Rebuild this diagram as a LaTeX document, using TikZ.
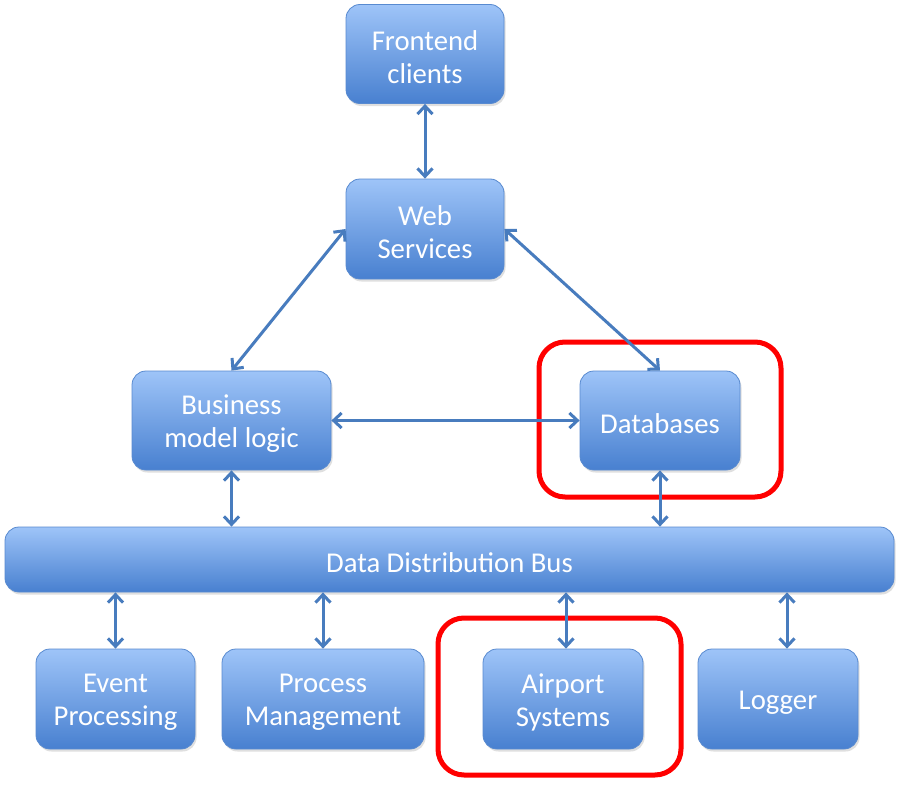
\documentclass[tikz,border=0pt]{standalone}
\usepackage{fontspec}
\setmainfont{Carlito}
\usetikzlibrary{arrows.meta,shadows,calc}
\definecolor{boxtop}{RGB}{158,196,248}
\definecolor{boxbot}{RGB}{72,128,208}
\definecolor{boxedge}{RGB}{88,138,208}
\definecolor{arrowc}{RGB}{72,124,190}
\begin{document}
\begin{tikzpicture}[x=1pt,y=-1pt,
  blk/.style={draw=boxedge, line width=0.8pt, rounded corners=14pt,
    top color=boxtop, bottom color=boxbot, inner sep=0pt,
    drop shadow={opacity=0.25, shadow xshift=1.5pt, shadow yshift=-2.5pt}},
  txt/.style={text=white, font=\fontsize{28.7}{33}\selectfont, align=center,
    inner sep=0pt, yshift=-3.5pt},
  link/.style={draw=arrowc, line width=3pt,
    {Straight Barb[length=8pt,width=15pt]}-{Straight Barb[length=8pt,width=15pt]}},
  hilite/.style={draw=red, line width=5pt, rounded corners=26pt}]
\useasboundingbox (0,0) rectangle (900,800);
\fill[white] (0,0) rectangle (900,800);

\draw[hilite] (539,342) rectangle (781,497);
\draw[hilite] (438,618) rectangle (681,775);

\node[blk, minimum width=158pt, minimum height=99pt,
  label={[txt, name=fet]center:{Frontend\\clients}}] (fe) at (425,54) {};
\node[blk, minimum width=158pt, minimum height=100pt,
  label={[txt, name=wst]center:{Web\\Services}}] (ws) at (425,229) {};
\node[blk, minimum width=199pt, minimum height=99pt,
  label={[txt, name=blt]center:{Business\\model logic}}] (bl) at (231.5,420.5) {};
\node[blk, minimum width=160pt, minimum height=99pt,
  label={[txt, name=dbt]center:{Databases}}] (db) at (660,420.5) {};
\node[blk, minimum width=889pt, minimum height=65pt,
  label={[txt, name=bust]center:{Data Distribution Bus}}] (bus) at (449.5,559.5) {};
\node[blk, minimum width=159pt, minimum height=100pt,
  label={[txt, name=evt]center:{Event\\Processing}}] (ev) at (115.5,699) {};
\node[blk, minimum width=202pt, minimum height=100pt,
  label={[txt, name=pmt]center:{Process\\Management}}] (pm) at (323,699) {};
\node[blk, minimum width=160pt, minimum height=100pt,
  label={[txt, name=ast]center:{Airport\\Systems}}] (as) at (563,699) {};
\node[blk, minimum width=160pt, minimum height=100pt,
  label={[txt, name=lgt]center:{Logger}}] (lg) at (778,699) {};

\draw[link] (fe.south) -- (ws.north);
\draw[link] (ws.west) -- (bl.north);
\draw[link] (ws.east) -- (db.north);
\draw[link] (bl.east) -- (db.west);
\draw[link] (bl.south) -- (bl.south |- bus.north);
\draw[link] (db.south) -- (db.south |- bus.north);
\draw[link] (ev.north |- bus.south) -- (ev.north);
\draw[link] (pm.north |- bus.south) -- (pm.north);
\draw[link] ([xshift=3pt]as.north |- bus.south) -- ([xshift=3pt]as.north);
\draw[link] ([xshift=9pt]lg.north |- bus.south) -- ([xshift=9pt]lg.north);
\end{tikzpicture}
\end{document}
